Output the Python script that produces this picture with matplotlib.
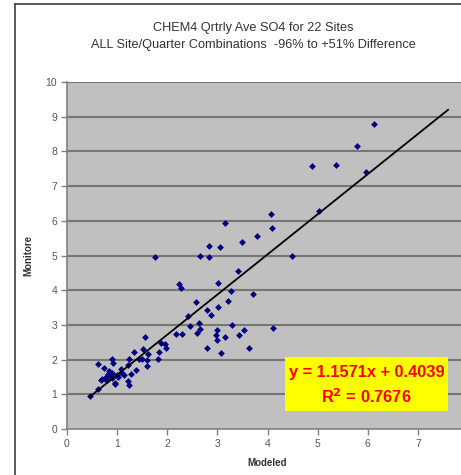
import matplotlib.pyplot as plt
from matplotlib.patches import Rectangle
from matplotlib.lines import Line2D

plt.rcParams['font.family'] = ['Liberation Sans', 'DejaVu Sans']

# quarterly average SO4, modeled vs monitored
modeled = [6.13, 5.79, 4.89, 5.37, 5.97, 5.02, 4.06, 3.15, 4.08, 3.79,
           2.84, 3.05, 3.50, 2.65, 2.84, 4.48, 1.76, 3.41, 3.01, 2.24,
           2.28, 3.28, 3.72, 2.57, 3.22, 2.79, 3.02, 2.87, 2.42, 2.63,
           2.46, 3.30, 4.10, 2.66, 2.59, 2.99, 3.53, 2.97, 2.18, 2.29,
           3.44, 3.16, 2.99, 2.79, 3.63, 3.07, 1.55, 1.88, 1.96, 1.97,
           1.83, 1.51, 1.34, 1.61, 1.50, 1.44, 1.82, 1.60, 1.24, 1.59,
           1.37, 1.28, 1.13, 1.22, 1.23, 0.96, 0.62, 0.45, 0.90, 0.92,
           0.62, 0.74, 1.08, 0.84, 0.90, 0.82, 0.78, 0.70, 0.67, 0.89,
           0.95, 1.02, 1.09, 1.22, 0.75, 0.85, 1.00, 0.80]
monitored = [8.78, 8.16, 7.59, 7.62, 7.40, 6.29, 6.19, 5.95, 5.80, 5.56,
             5.27, 5.24, 5.40, 4.99, 4.97, 4.99, 4.96, 4.55, 4.22, 4.19,
             4.05, 3.97, 3.88, 3.66, 3.68, 3.43, 3.52, 3.29, 3.26, 3.05,
             2.96, 2.99, 2.92, 2.87, 2.78, 2.85, 2.85, 2.72, 2.74, 2.74,
             2.71, 2.64, 2.56, 2.33, 2.33, 2.18, 2.65, 2.48, 2.44, 2.33,
             2.22, 2.31, 2.22, 2.16, 2.02, 2.02, 2.01, 2.00, 2.01, 1.83,
             1.71, 1.59, 1.56, 1.37, 1.27, 1.30, 1.15, 0.95, 2.01, 1.91,
             1.88, 1.77, 1.72, 1.67, 1.61, 1.58, 1.51, 1.45, 1.40, 1.46,
             1.32, 1.49, 1.61, 1.84, 1.45, 1.55, 1.55, 1.42]

slope = 1.1571
intercept = 0.4039
r2 = 0.7676
fit_x = [0.45, 7.6]

fig = plt.figure(figsize=(4.61, 4.75), dpi=100)
ax = fig.add_axes([0.1453, 0.0968, 0.870, 0.7305])
ax.set_facecolor('#C0C0C0')

ax.scatter(modeled, monitored, marker='D', s=12, color='#000080', zorder=3, linewidths=0)
ax.plot(fit_x, [slope * v + intercept for v in fit_x], color='black', lw=1.3, zorder=4)

ax.set_xlim(0, 8)
ax.set_ylim(0, 10)
ax.set_xticks(range(0, 8))
ax.set_yticks(range(0, 11))
for yv in range(1, 11):
    ax.axhline(yv, color='#767676', lw=1.5, zorder=1)

for side in ['top', 'right']:
    ax.spines[side].set_visible(False)
for side in ['left', 'bottom']:
    ax.spines[side].set_color('#808080')
    ax.spines[side].set_linewidth(1.2)
ax.tick_params(axis='both', colors='#808080', labelcolor='#555555', labelsize=7.5,
               length=4, width=1.0, direction='out', pad=3)

ax.set_xlabel('Modeled', fontsize=7, fontweight='bold', color='#333333', labelpad=7)
ax.set_ylabel('Monitore', fontsize=7, fontweight='bold', color='#333333')
ax.yaxis.set_label_coords(-0.085, 0.5)

fig.text(0.549, 0.941, 'CHEM4 Qrtrly Ave SO4 for 22 Sites', ha='center', va='center',
         fontsize=9.2, color='#333333')
fig.text(0.549, 0.905, 'ALL Site/Quarter Combinations  -96% to +51% Difference',
         ha='center', va='center', fontsize=9.2, color='#333333')

# equation box
ax.add_patch(Rectangle((4.35, 0.52), 3.25, 1.55, facecolor='#FFFF00', edgecolor='none', zorder=5))
ax.text(5.975, 1.62, f'y = {slope}x + {intercept}', ha='center', va='center', fontsize=11.8,
        fontweight='bold', color='#FF0000', zorder=6)
ax.text(5.975, 0.92, 'R$^{\\mathbf{2}}$ = ' + f'{r2}', ha='center', va='center', fontsize=11.8,
        fontweight='bold', color='#FF0000', zorder=6)

# chart border
fig.add_artist(Line2D([15 / 461, 15 / 461], [0, 1 - 4 / 475], transform=fig.transFigure,
                      color='#404040', lw=1.2))
fig.add_artist(Line2D([15 / 461, 1], [1 - 4 / 475, 1 - 4 / 475], transform=fig.transFigure,
                      color='#404040', lw=1.2))

fig.savefig('out.png', dpi=100)
